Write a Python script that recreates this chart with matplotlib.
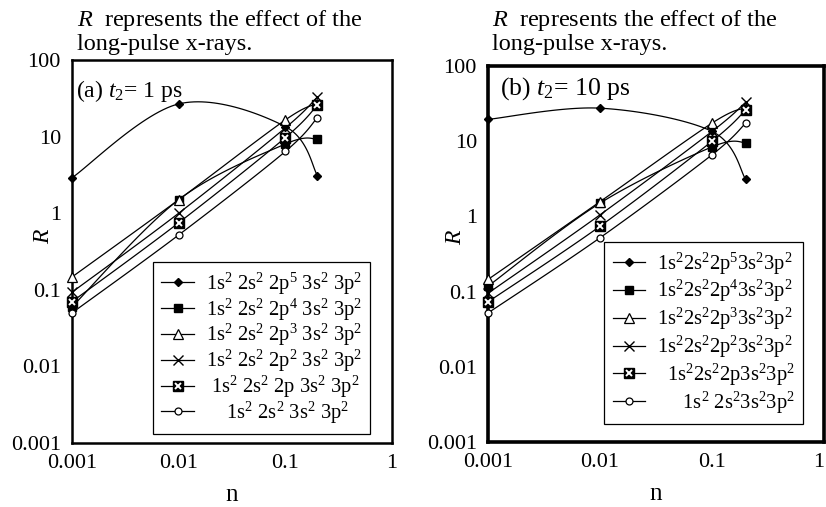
import matplotlib
matplotlib.use("Agg")
import matplotlib.pyplot as plt
import matplotlib.transforms as mtransforms
import numpy as np
from matplotlib.lines import Line2D
from matplotlib.ticker import FixedLocator, FuncFormatter, NullLocator

plt.rcParams["font.family"] = ["Liberation Serif", "DejaVu Serif"]
plt.rcParams["mathtext.fontset"] = "custom"
plt.rcParams["mathtext.rm"] = "Liberation Serif"
plt.rcParams["mathtext.it"] = "Liberation Serif:italic"
plt.rcParams["mathtext.bf"] = "Liberation Serif:bold"

# data
n = [0.001, 0.01, 0.1, 0.2]

r_a = {
    "2p5": [2.9, 26.7, 13.5, 3.1],
    "2p4": [0.06, 1.5, 8.0, 9.3],
    "2p3": [0.147, 1.5, 16.5, 27.0],
    "2p2": [0.093, 1.0, 13.0, 33.0],
    "2p1": [0.07, 0.75, 9.7, 25.8],
    "2p0": [0.05, 0.52, 6.4, 17.7],
}
r_b = {
    "2p5": [19.5, 27.5, 13.5, 3.1],
    "2p4": [0.118, 1.5, 8.4, 9.6],
    "2p3": [0.145, 1.57, 17.4, 28.0],
    "2p2": [0.095, 1.05, 13.5, 33.0],
    "2p1": [0.073, 0.74, 10.0, 26.0],
    "2p0": [0.052, 0.52, 6.6, 17.4],
}

labels_a = [
    "1s$^2$ 2s$^2$ 2p$^5$ 3s$^2$ 3p$^2$",
    "1s$^2$ 2s$^2$ 2p$^4$ 3s$^2$ 3p$^2$",
    "1s$^2$ 2s$^2$ 2p$^3$ 3s$^2$ 3p$^2$",
    "1s$^2$ 2s$^2$ 2p$^2$ 3s$^2$ 3p$^2$",
    " 1s$^2$ 2s$^2$ 2p 3s$^2$ 3p$^2$",
    "    1s$^2$ 2s$^2$ 3s$^2$ 3p$^2$",
]
labels_b = [
    "1s$^2$2s$^2$2p$^5$3s$^2$3p$^2$",
    "1s$^2$2s$^2$2p$^4$3s$^2$3p$^2$",
    "1s$^2$2s$^2$2p$^3$3s$^2$3p$^2$",
    "1s$^2$2s$^2$2p$^2$3s$^2$3p$^2$",
    "  1s$^2$2s$^2$2p3s$^2$3p$^2$",
    "     1s$^2$ 2s$^2$3s$^2$3p$^2$",
]

x_ticks = [0.001, 0.01, 0.1, 1]
y_ticks = [0.001, 0.01, 0.1, 1, 10, 100]

# marker styles per series
styles = {
    "2p5": [dict(marker="D", ms=4.5, mfc="k", mec="k")],
    "2p4": [dict(marker="s", ms=6, mfc="k", mec="k")],
    "2p3": [dict(marker="^", ms=7, mfc="white", mec="k", mew=0.9)],
    "2p2": [dict(marker="x", ms=6.5, mec="k", mew=1.0)],
    "2p1": [dict(marker="s", ms=7, mfc="k", mec="k"),
            dict(marker="x", ms=5, mec="white", mew=1.4)],
    "2p0": [dict(marker="o", ms=5, mfc="white", mec="k", mew=0.9)],
}


def smooth(xs, ys, k=30):
    """Excel-style smoothed line (Catmull-Rom bezier) in log-log space."""
    P = np.column_stack([np.log10(xs), np.log10(ys)])
    Pe = np.vstack([P[0], P, P[-1]])
    t = np.linspace(0, 1, k)[:, None]
    out = []
    for i in range(len(P) - 1):
        p0, p3 = Pe[i + 1], Pe[i + 2]
        c1 = p0 + (Pe[i + 2] - Pe[i]) / 6
        c2 = p3 - (Pe[i + 3] - Pe[i + 1]) / 6
        seg = (1 - t) ** 3 * p0 + 3 * (1 - t) ** 2 * t * c1 + 3 * (1 - t) * t ** 2 * c2 + t ** 3 * p3
        out.append(seg if i == 0 else seg[1:])
    S = np.vstack(out)
    return 10 ** S[:, 0], 10 ** S[:, 1]


def panel(ax, data, labels, tag, tag_fs, spine_w, leg_anchor, leg_space):
    for key in data:
        sx, sy = smooth(n, data[key])
        ax.plot(sx, sy, color="k", lw=0.9, zorder=2)
    for key in data:
        for st in styles[key]:
            ax.plot(n, data[key], ls="none", zorder=3, clip_on=False, **st)
    ax.set_xscale("log")
    ax.set_yscale("log")
    ax.set_xlim(0.001, 1)
    ax.set_ylim(0.001, 100)
    ax.xaxis.set_major_locator(FixedLocator(x_ticks))
    ax.yaxis.set_major_locator(FixedLocator(y_ticks))
    ax.xaxis.set_minor_locator(NullLocator())
    ax.yaxis.set_minor_locator(NullLocator())
    fmt = FuncFormatter(lambda v, p: f"{v:g}")
    ax.xaxis.set_major_formatter(fmt)
    ax.yaxis.set_major_formatter(fmt)
    ax.tick_params(length=0, labelsize=16, pad=8)
    for s in ax.spines.values():
        s.set_linewidth(spine_w)
    ax.set_xlabel("n", fontsize=18, labelpad=8)
    ax.set_ylabel("$R$", fontsize=17)
    ax.text(tag[0], tag[1], tag[2], transform=ax.transAxes, fontsize=tag_fs,
            va="baseline", ha="left")

    handles = []
    for key in data:
        parts = [Line2D([], [], color="k", lw=0.9, **st) if j == 0 else
                 Line2D([], [], ls="none", **st) for j, st in enumerate(styles[key])]
        handles.append(tuple(parts) if len(parts) > 1 else parts[0])
    leg = ax.legend(handles, labels, loc="lower right", bbox_to_anchor=leg_anchor,
                    fontsize=14.8, frameon=True, fancybox=False, framealpha=1,
                    edgecolor="k", handlelength=1.6, labelspacing=leg_space,
                    borderpad=0.4, handletextpad=0.55, borderaxespad=0)
    leg.get_frame().set_linewidth(0.9)
    leg.set_zorder(5)


fig = plt.figure(figsize=(8.26, 5.07), dpi=100)
ax_a = fig.add_axes([0.0872, 0.1262, 0.3874, 0.7555])
ax_b = fig.add_axes([0.5908, 0.1282, 0.4068, 0.7416])

panel(ax_a, r_a, labels_a, (0.012, 0.903, "(a) $t_2$= 1 ps"), 17, 1.8,
      (0.931, 0.0235), -0.02)
panel(ax_b, r_b, labels_b, (0.036, 0.923, "(b) $t_2$= 10 ps"), 18.5, 2.6,
      (0.9375, 0.048), 0.08)
ax_a.yaxis.set_label_coords(-0.055, 0.54)
ax_b.yaxis.set_label_coords(-0.065, 0.545)

# the "1" at the right edge of panel (b) sits on the picture border; nudge it in
fig.canvas.draw()
last = ax_b.get_xticklabels()[-1]
last.set_transform(last.get_transform() +
                   mtransforms.ScaledTranslation(-5 / 100, 0, fig.dpi_scale_trans))

title = "$R$  represents the effect of the\nlong-pulse x-rays."
fig.text(77 / 826, 1 - 8 / 507, title, fontsize=17.5, va="top", ha="left",
         linespacing=1.05)
fig.text(492 / 826, 1 - 8 / 507, title, fontsize=17.5, va="top", ha="left",
         linespacing=1.05)

fig.savefig("out.png", dpi=100)
